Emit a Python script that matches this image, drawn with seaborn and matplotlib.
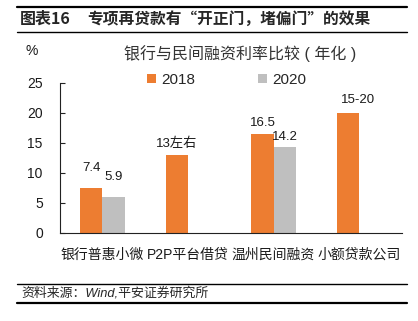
import numpy as np
import pandas as pd
import matplotlib
matplotlib.use("Agg")
import matplotlib.pyplot as plt
from matplotlib.lines import Line2D
from matplotlib.patches import Patch
import seaborn as sns

# ---- data ----
categories = ["银行普惠小微", "P2P平台借贷", "温州民间融资", "小额贷款公司"]
series_names = ["2018", "2020"]
values_2018 = [7.4, 13.0, 16.5, 20.0]
values_2020 = [5.9, np.nan, 14.2, np.nan]
labels_2018 = ["7.4", "13左右", "16.5", "15-20"]
labels_2020 = ["5.9", "", "14.2", ""]
y_ticks = [0, 5, 10, 15, 20, 25]

sns.set_theme(style="white")
FAM = ["Liberation Sans", "Noto Sans CJK SC", "DejaVu Sans"]
CJK = ["Noto Sans CJK SC", "Liberation Sans", "DejaVu Sans"]
plt.rcParams["font.family"] = FAM
plt.rcParams["axes.unicode_minus"] = False

rows = []
for c, v in zip(categories, values_2018):
    rows.append({"cat": c, "year": series_names[0], "val": v})
for c, v in zip(categories, values_2020):
    rows.append({"cat": c, "year": series_names[1], "val": v})
df = pd.DataFrame(rows).dropna()

fig = plt.figure(figsize=(4.18, 3.21), dpi=100)
ax = fig.add_axes([59.5 / 418, 1 - 232.5 / 321, (402 - 59.5) / 418, (232.5 - 82.7) / 321])

colors = {"2018": "#ED7D31", "2020": "#BFBFBF"}
sns.barplot(data=df, x="cat", y="val", hue="year", order=categories,
            hue_order=series_names, palette=colors, width=0.52, gap=0,
            dodge=True, ax=ax, legend=False, linewidth=0, saturation=1)

# value labels
label_lists = [labels_2018, labels_2020]
value_lists = [values_2018, values_2020]
pads = {("2018", 0): (0, 10), ("2018", 1): (0, 3), ("2018", 2): (0, 3), ("2018", 3): (7, 5),
        ("2020", 0): (0, 10), ("2020", 2): (0, 3.5)}
for si, cont in enumerate(ax.containers):
    present = [i for i, v in enumerate(value_lists[si]) if not np.isnan(v)]
    for bar, ci in zip(cont, present):
        dx, dy = pads[(series_names[si], ci)]
        ax.annotate(label_lists[si][ci],
                    (bar.get_x() + bar.get_width() / 2, bar.get_height()),
                    xytext=(dx, dy), textcoords="offset points",
                    ha="center", va="bottom", fontsize=9.5, color="#1a1a1a",
                    family=FAM)

ax.set_xlim(-0.5, 3.5)
ax.set_ylim(0, 25)
ax.set_yticks(y_ticks)
ax.set_yticklabels([str(t) for t in y_ticks], fontsize=10, color="#1a1a1a")
ax.set_xticks(np.arange(-0.5, 4, 1.0))
ax.set_xticklabels([])
ax.set_xticks(np.arange(len(categories)), minor=True)
ax.set_xticklabels(categories, minor=True, fontsize=10, color="#1a1a1a")
ax.tick_params(axis="x", which="major", direction="in", length=3.5, width=0.8, color="#222222")
ax.tick_params(axis="x", which="minor", length=0, pad=11)
ax.tick_params(axis="y", which="major", direction="in", length=3.5, width=0.8, color="#222222", pad=12, left=True)
ax.set_xlabel("")
ax.set_ylabel("")
for s in ["top", "right"]:
    ax.spines[s].set_visible(False)
for s in ["left", "bottom"]:
    ax.spines[s].set_color("#222222")
    ax.spines[s].set_linewidth(0.8)

# legend
handles = [Patch(facecolor=colors[n], edgecolor="none") for n in series_names]
fig.legend(handles, series_names, loc="center left", bbox_to_anchor=(147 / 418, 1 - 80 / 321),
           ncol=2, frameon=False, fontsize=11, handlelength=0.6, handleheight=0.6,
           handletextpad=0.35, columnspacing=4.1, borderpad=0, borderaxespad=0)

# texts
fig.text(25 / 418, 1 - 51 / 321, "%", fontsize=10, ha="left", va="center", color="#1a1a1a")
fig.text(240 / 418, 1 - 54 / 321, "银行与民间融资利率比较 ( 年化 )", fontsize=11.5,
         ha="center", va="center", color="#333333", family=FAM)

fig.text(20 / 418, 1 - 19 / 321, "图表16", fontsize=11.5, fontweight="bold", ha="left", va="center",
         family=CJK)
fig.text(87 / 418, 1 - 19 / 321, "专项再贷款有“开正门，堵偏门”的效果", fontsize=11.3,
         fontweight="bold", ha="left", va="center", family=CJK)
fig.text(21 / 418, 1 - 293 / 321, "资料来源：Wind,平安证券研究所", fontsize=9.3, style="italic",
         ha="left", va="center")

for y, lw in [(7, 1.6), (31.5, 1.0), (284, 1.0), (302.5, 1.6)]:
    fig.add_artist(Line2D([17 / 418, 407 / 418], [1 - y / 321, 1 - y / 321],
                          transform=fig.transFigure, color="black", linewidth=lw))

fig.savefig("out.png", dpi=100)
